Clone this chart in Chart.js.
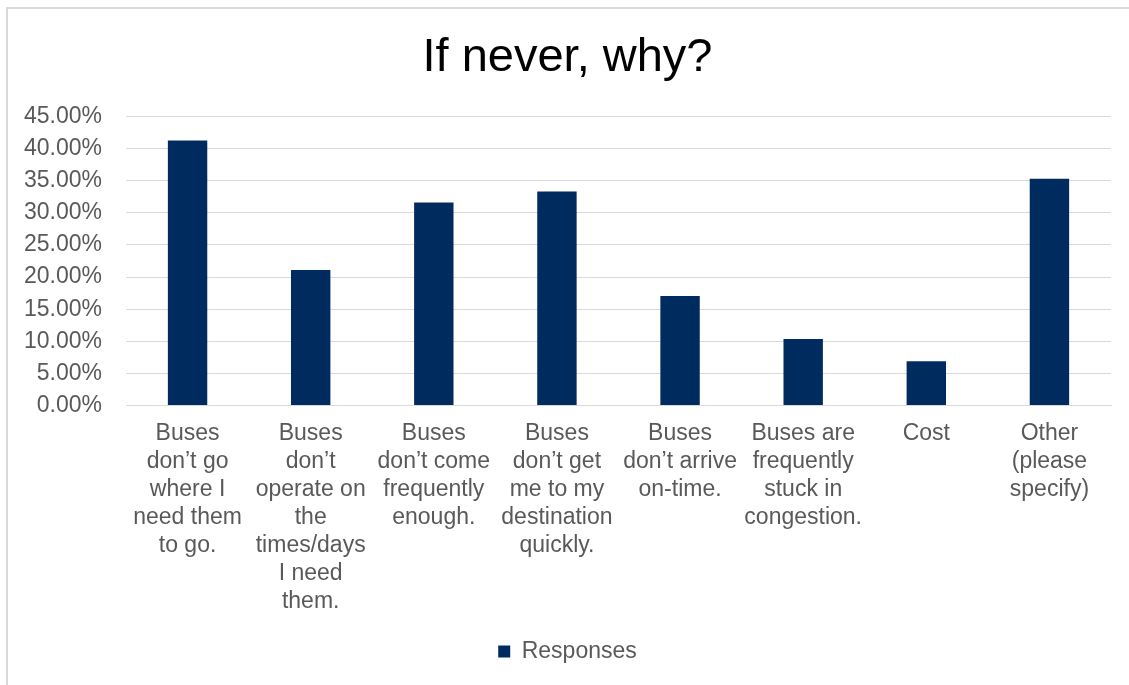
<!DOCTYPE html>
<html lang="en">
<head>
    <title>If never, why?</title>
    <script src="https://cdn.jsdelivr.net/npm/chart.js"></script>
    <style>
        body {
            margin: 0;
            background-color: white;
            font-family: "Liberation Sans", Arial, sans-serif;
        }

        #wrap {
            position: relative;
            width: 1129px;
            height: 685px;
        }

        /* light frame, only top and left edges show in the picture */
        #frame {
            position: absolute;
            left: 6px;
            top: 7px;
            right: 0;
            bottom: 0;
            border-top: 2px solid #d9d9d9;
            border-left: 2px solid #d9d9d9;
            pointer-events: none;
        }
    </style>
</head>
<body>

    <div id="wrap">
        <canvas id="chart" width="1129" height="685"></canvas>
        <div id="frame"></div>
    </div>

    <script>
        const categories = [
            ["Buses", "don\u2019t go", "where I", "need them", "to go."],
            ["Buses", "don\u2019t", "operate on", "the", "times/days", "I need", "them."],
            ["Buses", "don\u2019t come", "frequently", "enough."],
            ["Buses", "don\u2019t get", "me to my", "destination", "quickly."],
            ["Buses", "don\u2019t arrive", "on-time."],
            ["Buses are", "frequently", "stuck in", "congestion."],
            ["Cost"],
            ["Other", "(please", "specify)"]
        ];
        const responses = [41.25, 21.1, 31.6, 33.3, 17.05, 10.35, 6.9, 35.3];
        const yTicks = [0, 5, 10, 15, 20, 25, 30, 35, 40, 45];

        const textGray = '#595959';
        const navy = '#002b5e';

        new Chart(document.getElementById('chart').getContext('2d'), {
            type: 'bar',
            data: {
                labels: categories,
                datasets: [{
                    label: 'Responses',
                    data: responses,
                    backgroundColor: navy,
                    borderWidth: 0,
                    barPercentage: 0.4,
                    categoryPercentage: 0.8
                }]
            },
            options: {
                responsive: false,
                animation: false,
                layout: {
                    padding: { left: 24, right: 18, top: 0, bottom: 12 }
                },
                plugins: {
                    title: {
                        display: true,
                        text: 'If never, why?',
                        color: '#000',
                        font: { family: '"Liberation Sans", Arial', size: 47, weight: 'normal' },
                        padding: { top: 30, bottom: 30 }
                    },
                    legend: {
                        display: true,
                        position: 'bottom',
                        labels: {
                            color: textGray,
                            boxWidth: 12,
                            boxHeight: 12,
                            padding: 10,
                            font: { family: '"Liberation Sans", Arial', size: 23 }
                        }
                    },
                    tooltip: { enabled: false }
                },
                scales: {
                    x: {
                        grid: { display: false, drawTicks: false },
                        border: { display: true, color: '#d9d9d9', width: 1 },
                        ticks: {
                            color: textGray,
                            maxRotation: 0,
                            autoSkip: false,
                            padding: 14,
                            font: { family: '"Liberation Sans", Arial', size: 23, lineHeight: 1.22 }
                        }
                    },
                    y: {
                        min: 0,
                        max: 45,
                        afterBuildTicks: axis => {
                            axis.ticks = yTicks.map(v => ({ value: v }));
                        },
                        afterFit: axis => {
                            axis.width = 102;
                        },
                        grid: { color: '#d9d9d9', lineWidth: 1, drawTicks: false },
                        border: { display: false },
                        ticks: {
                            color: textGray,
                            padding: 24,
                            font: { family: '"Liberation Sans", Arial', size: 23 },
                            callback: v => v.toFixed(2) + '%'
                        }
                    }
                }
            }
        });
    </script>

</body>
</html>
